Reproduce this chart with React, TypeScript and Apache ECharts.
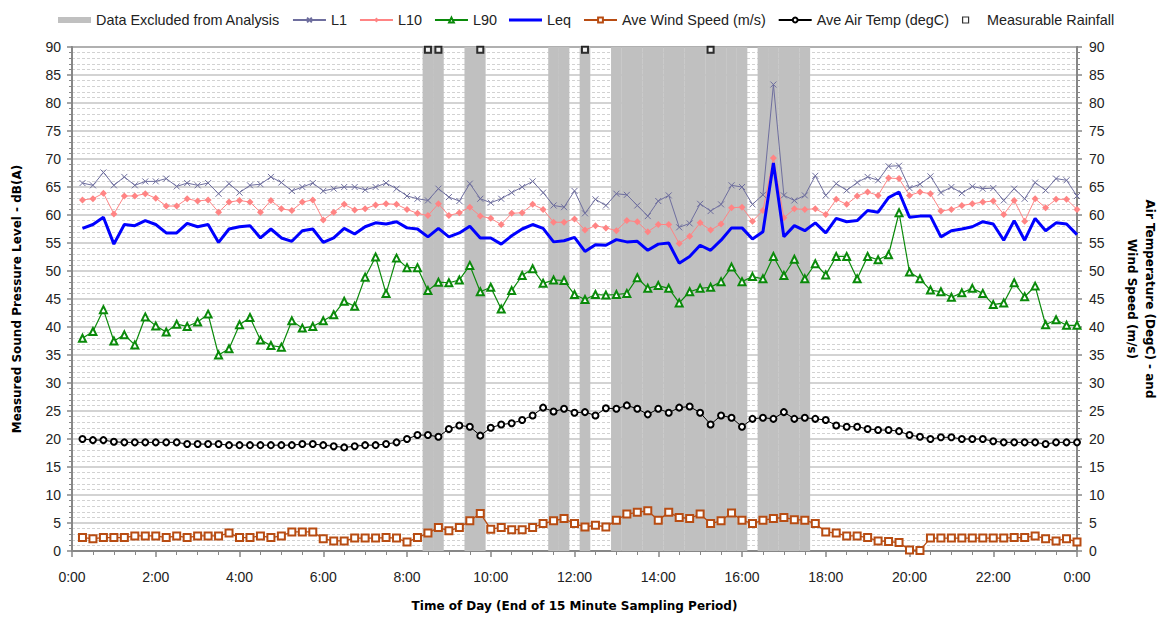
import React, { useEffect, useRef } from "react";
import * as echarts from "echarts";

// 15-minute sampling periods (end of period, minutes after midnight)
const times: number[] = Array.from({ length: 96 }, (_, i) => (i + 1) * 15);

const L1 = [
  65.7, 65.3, 67.6, 65.3, 66.8, 65.3, 66.0, 66.0, 66.5, 65.1,
  65.7, 65.3, 65.7, 63.8, 65.6, 64.0, 65.3, 65.5, 66.8, 65.8,
  64.3, 65.0, 65.7, 64.3, 64.7, 65.0, 65.0, 64.5, 65.0, 65.7,
  64.7, 63.4, 62.9, 62.6, 64.7, 63.2, 62.5, 65.6, 62.9, 62.2,
  62.9, 64.0, 65.0, 66.0, 64.0, 61.7, 61.4, 64.3, 60.3, 62.8,
  61.7, 63.8, 63.6, 61.7, 59.8, 62.5, 63.5, 57.8, 58.5, 62.0,
  60.7, 61.9, 65.3, 65.0, 61.9, 63.6, 83.3, 63.5, 62.6, 63.5,
  67.0, 63.5, 65.6, 64.4, 65.8, 66.8, 66.2, 68.7, 68.8, 64.8,
  65.5, 66.9, 64.0, 65.0, 63.9, 65.1, 64.7, 64.8, 62.6, 64.7,
  62.9, 65.8, 64.4, 66.5, 66.2, 63.4,
];

const L10 = [
  62.7, 62.9, 63.9, 60.2, 63.4, 63.4, 63.8, 63.0, 61.6, 61.6,
  62.9, 62.5, 62.7, 60.5, 62.3, 62.6, 62.3, 60.5, 62.6, 61.1,
  60.8, 62.3, 62.7, 59.1, 60.5, 61.9, 60.9, 61.1, 61.8, 62.0,
  61.9, 61.0, 60.3, 59.9, 62.0, 59.9, 60.4, 61.4, 59.8, 59.4,
  58.3, 60.3, 60.4, 61.9, 61.0, 58.7, 58.7, 59.3, 57.3, 58.1,
  57.7, 57.2, 59.0, 58.8, 57.0, 58.3, 58.3, 54.9, 56.2, 58.6,
  57.3, 58.4, 61.3, 61.4, 58.9, 60.8, 70.2, 59.5, 61.1, 61.0,
  61.1, 60.1, 62.8, 61.9, 63.4, 64.1, 63.5, 66.6, 66.5, 63.5,
  64.1, 63.8, 60.7, 61.0, 61.7, 62.0, 62.3, 62.5, 60.1, 62.6,
  58.9, 62.9, 61.3, 62.8, 62.8, 61.0,
];

const L90 = [
  38.0, 39.2, 43.1, 37.5, 38.6, 36.8, 41.8, 40.2, 39.1, 40.5,
  40.1, 40.9, 42.3, 35.0, 36.1, 40.4, 41.7, 37.7, 36.7, 36.4,
  41.1, 39.8, 40.1, 41.1, 42.2, 44.6, 43.7, 48.9, 52.5, 46.0,
  52.3, 50.6, 50.6, 46.5, 48.0, 47.9, 48.4, 51.0, 46.3, 47.1,
  43.2, 46.5, 49.2, 50.4, 47.8, 48.4, 48.3, 45.8, 44.9, 45.8,
  45.7, 45.8, 46.0, 48.8, 46.9, 47.4, 46.9, 44.3, 46.3, 46.9,
  47.1, 48.1, 50.7, 48.1, 49.0, 48.6, 52.6, 49.2, 52.1, 48.6,
  51.3, 49.3, 52.6, 52.6, 48.6, 52.6, 52.0, 52.9, 60.4, 49.8,
  48.6, 46.6, 46.3, 45.3, 46.1, 46.9, 46.0, 44.0, 44.3, 47.9,
  45.4, 47.3, 40.4, 41.3, 40.3, 40.3,
];

const Leq = [
  57.6, 58.3, 59.6, 54.8, 58.3, 58.1, 59.0, 58.3, 56.8, 56.8,
  58.5, 57.9, 58.3, 55.1, 57.5, 57.9, 58.1, 55.9, 57.5, 55.9,
  55.3, 57.2, 57.5, 55.1, 55.9, 57.6, 56.6, 57.9, 58.6, 58.4,
  58.8, 57.7, 57.5, 56.1, 57.6, 56.1, 56.8, 58.0, 55.9, 55.9,
  54.8, 56.3, 57.5, 58.3, 57.6, 55.2, 55.4, 56.0, 53.5, 54.7,
  54.6, 55.6, 55.2, 55.3, 53.7, 54.8, 55.0, 51.4, 52.6, 54.6,
  53.7, 55.5, 57.7, 57.7, 55.7, 57.0, 69.3, 56.1, 58.1, 57.2,
  58.6, 56.8, 59.4, 58.8, 59.0, 60.8, 60.5, 63.1, 64.1, 59.6,
  59.8, 59.8, 56.1, 57.2, 57.5, 57.9, 58.8, 58.4, 55.5, 59.0,
  55.5, 59.4, 57.2, 58.6, 58.4, 56.5,
];

const windSpeed = [
  2.4, 2.2, 2.4, 2.4, 2.4, 2.7, 2.7, 2.7, 2.4, 2.7,
  2.4, 2.7, 2.7, 2.7, 3.2, 2.4, 2.4, 2.7, 2.4, 2.7,
  3.4, 3.4, 3.4, 2.2, 1.8, 1.8, 2.3, 2.3, 2.3, 2.4,
  2.3, 1.6, 2.4, 3.2, 4.2, 3.6, 4.2, 5.4, 6.7, 3.9,
  4.2, 3.8, 3.8, 4.2, 4.9, 5.4, 5.8, 4.9, 4.3, 4.6,
  4.3, 5.5, 6.6, 6.9, 7.2, 5.5, 6.9, 6.0, 5.8, 6.6,
  4.9, 5.4, 6.8, 5.5, 4.9, 5.5, 5.8, 6.0, 5.6, 5.5,
  4.9, 3.4, 3.2, 2.7, 2.7, 2.4, 1.8, 1.7, 1.5, 0.2,
  0.1, 2.3, 2.3, 2.3, 2.3, 2.3, 2.3, 2.3, 2.3, 2.4,
  2.4, 2.7, 2.2, 1.8, 2.2, 1.6,
];

const airTemp = [
  20.0, 19.8, 19.8, 19.5, 19.4, 19.4, 19.4, 19.4, 19.4, 19.4,
  19.1, 19.1, 19.1, 19.1, 18.9, 18.9, 18.9, 18.9, 18.9, 18.9,
  18.9, 19.1, 19.1, 18.9, 18.7, 18.5, 18.7, 18.9, 18.9, 19.1,
  19.4, 20.0, 20.7, 20.7, 20.4, 21.8, 22.4, 22.2, 20.6, 22.0,
  22.6, 22.8, 23.4, 24.2, 25.6, 24.9, 25.4, 24.7, 24.8, 24.2,
  25.5, 25.4, 26.0, 25.4, 24.4, 25.4, 24.7, 25.6, 25.8, 24.7,
  22.6, 24.2, 23.8, 22.2, 23.6, 23.8, 23.6, 24.8, 23.6, 23.8,
  23.6, 23.4, 22.4, 22.2, 22.2, 21.8, 21.6, 21.6, 21.4, 20.7,
  20.4, 20.0, 20.3, 20.3, 20.0, 20.0, 20.0, 19.6, 19.4, 19.4,
  19.4, 19.4, 19.1, 19.4, 19.4, 19.4,
];

// periods (end time, minutes) excluded from analysis
const excludedPeriods = [
  510, 525, 570, 585, 690, 705, 735,
  780, 795, 810, 825, 840, 855, 870, 885, 900, 915, 930, 945, 960,
  990, 1005, 1020, 1035, 1050,
];
const excludedLevel = 90;

// periods (end time, minutes) with measurable rainfall
const rainfallPeriods = [510, 525, 585, 735, 915];
const rainfallLevel = 89.5;

const xTicks = { min: 0, max: 1440, step: 120 };

const LABEL_FONT = "Liberation Sans";
const TITLE_FONT = "DejaVu Sans";

const X_SYMBOL = "path://M0,0L10,10M0,10L10,0";

export default function App() {
  const ref = useRef<HTMLDivElement>(null);

  useEffect(() => {
    if (!ref.current) return;
    const chart = echarts.init(ref.current, undefined, { renderer: "svg" });
    const pair = (arr: number[]) => times.map((t, i) => [t, arr[i]]);
    const axisGrey = "#878787";

    const yAxisCommon = {
      type: "value",
      min: 0,
      max: 90,
      interval: 5,
      axisLine: { show: true, lineStyle: { color: axisGrey, width: 2 } },
      axisTick: { show: true, inside: false, length: 5, lineStyle: { color: axisGrey, width: 1.5 } },
      minorTick: { show: true, splitNumber: 5, length: 3, lineStyle: { color: axisGrey, width: 1 } },
      axisLabel: { fontSize: 14, color: "#222", fontFamily: LABEL_FONT },
      nameLocation: "middle",
      nameTextStyle: { fontWeight: "bold", fontSize: 12, fontFamily: TITLE_FONT, color: "#000", lineHeight: 18 },
    };

    chart.setOption({
      animation: false,
      backgroundColor: "#fff",
      grid: {
        left: 69,
        right: 87,
        top: 47,
        bottom: 71,
        show: true,
        borderColor: "#4a4a4a",
        borderWidth: 1.5,
        backgroundColor: "transparent",
      },
      legend: {
        top: 8,
        left: 53,
        itemWidth: 33,
        itemHeight: 6,
        itemGap: 12,
        textStyle: { fontSize: 14.4, color: "#222", fontFamily: LABEL_FONT },
        data: [
          { name: "Data Excluded from Analysis", icon: "rect" },
          "L1",
          "L10",
          "L90",
          { name: "Leq", icon: "path://M0,0H33V3H0Z" },
          "Ave Wind Speed (m/s)",
          "Ave Air Temp (degC)",
          {
            name: "Measurable Rainfall",
            icon: "path://M0,0H10V10H0Z",
            itemStyle: { color: "#fff", borderColor: "#000", borderWidth: 1.2 },
          },
        ],
      },
      xAxis: {
        type: "value",
        min: xTicks.min,
        max: xTicks.max,
        interval: xTicks.step,
        axisLine: { show: true, lineStyle: { color: axisGrey, width: 2 } },
        axisTick: { show: true, length: 6, lineStyle: { color: axisGrey, width: 1.5 } },
        minorTick: { show: true, splitNumber: 4, length: 4, lineStyle: { color: axisGrey, width: 1 } },
        splitLine: { show: false },
        axisLabel: {
          fontSize: 14,
          color: "#222",
          fontFamily: LABEL_FONT,
          margin: 19,
          formatter: (v: number) => `${Math.floor(v / 60) % 24}:00`,
        },
        name: "Time of Day (End of 15 Minute Sampling Period)",
        nameLocation: "middle",
        nameGap: 49,
        nameTextStyle: { fontWeight: "bold", fontSize: 12, fontFamily: TITLE_FONT, color: "#000" },
      },
      yAxis: [
        {
          ...yAxisCommon,
          position: "left",
          axisLabel: { ...yAxisCommon.axisLabel, margin: 11 },
          splitLine: { show: true, lineStyle: { color: "#c4c4c4", width: 1.5 } },
          minorSplitLine: { show: true, lineStyle: { color: "#d2d2d2", width: 1, type: [3, 2] } },
          name: "Measured Sound Pressure Level - dB(A)",
          nameGap: 46,
        },
        {
          ...yAxisCommon,
          position: "right",
          axisLabel: { ...yAxisCommon.axisLabel, margin: 12 },
          splitLine: { show: false },
          minorSplitLine: { show: false },
          name: "Air Temperature (DegC) - and\nWind Speed (m/s)",
          nameRotate: -90,
          nameGap: 46,
        },
      ],
      series: [
        {
          name: "Data Excluded from Analysis",
          type: "bar",
          data: excludedPeriods.map((t) => [t, excludedLevel]),
          barWidth: "102%",
          itemStyle: { color: "#c0c0c0" },
          z: 1,
        },
        {
          name: "L1",
          type: "line",
          data: pair(L1),
          symbol: X_SYMBOL,
          symbolSize: 6,
          lineStyle: { color: "#6e6e9e", width: 1 },
          itemStyle: { color: "#6e6e9e", borderColor: "#6e6e9e", borderWidth: 1 },
          z: 3,
        },
        {
          name: "L10",
          type: "line",
          data: pair(L10),
          symbol: "diamond",
          symbolSize: 7,
          lineStyle: { color: "#ff8484", width: 1 },
          itemStyle: { color: "#ff8484" },
          z: 3,
        },
        {
          name: "L90",
          type: "line",
          data: pair(L90),
          symbol: "emptyTriangle",
          symbolSize: 7,
          lineStyle: { color: "#0a8a0a", width: 1.2 },
          itemStyle: { color: "#0a8a0a", borderWidth: 1.2 },
          z: 3,
        },
        {
          name: "Leq",
          type: "line",
          data: pair(Leq),
          symbol: "none",
          lineStyle: { color: "#0000ff", width: 3 },
          itemStyle: { color: "#0000ff" },
          z: 4,
        },
        {
          name: "Ave Wind Speed (m/s)",
          type: "line",
          yAxisIndex: 1,
          data: pair(windSpeed),
          symbol: "emptyRect",
          symbolSize: 7,
          lineStyle: { color: "#b84c12", width: 1.3 },
          itemStyle: { color: "#b84c12", borderWidth: 1.2 },
          z: 3,
        },
        {
          name: "Ave Air Temp (degC)",
          type: "line",
          yAxisIndex: 1,
          data: pair(airTemp),
          symbol: "emptyCircle",
          symbolSize: 6,
          lineStyle: { color: "#000", width: 1 },
          itemStyle: { color: "#000", borderWidth: 1 },
          z: 3,
        },
        {
          name: "Measurable Rainfall",
          type: "scatter",
          data: rainfallPeriods.map((t) => [t, rainfallLevel]),
          symbol: "emptyRect",
          symbolSize: 6,
          itemStyle: { color: "#000", borderWidth: 1.2 },
          z: 5,
        },
      ],
    });

    return () => chart.dispose();
  }, []);

  return (
    <div
      ref={ref}
      style={{ position: "fixed", left: 0, top: 0, width: 1167, height: 622, background: "#fff" }}
    />
  );
}
